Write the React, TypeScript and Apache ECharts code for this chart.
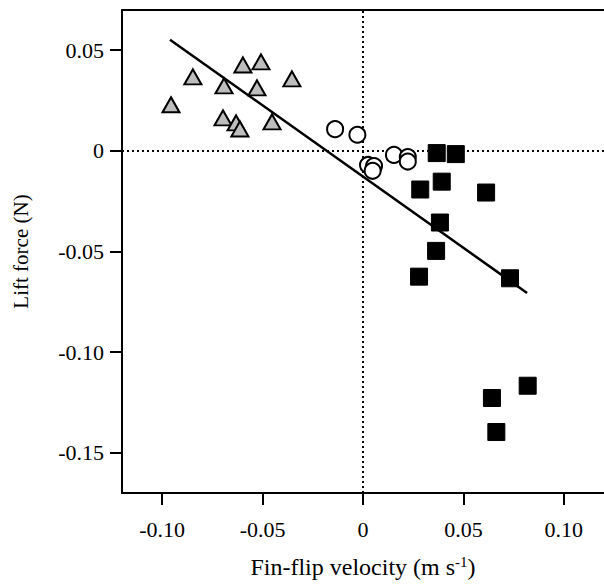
import React, { useEffect, useRef } from "react";
import * as echarts from "echarts";

const triangles: [number, number][] = [
  [-0.0956, 0.0229],
  [-0.0847, 0.0368],
  [-0.0598, 0.0427],
  [-0.0508, 0.0442],
  [-0.0692, 0.0323],
  [-0.0528, 0.0313],
  [-0.0354, 0.0358],
  [-0.0697, 0.0164],
  [-0.0632, 0.0139],
  [-0.0613, 0.0109],
  [-0.0453, 0.0144],
];

const circles: [number, number][] = [
  [-0.0139, 0.0108],
  [-0.0028, 0.008],
  [0.0025, -0.007],
  [0.0055, -0.0075],
  [0.0048, -0.0099],
  [0.0154, -0.002],
  [0.0223, -0.0031],
  [0.0223, -0.0053],
];

const squares: [number, number][] = [
  [0.0367, -0.0011],
  [0.0462, -0.0016],
  [0.0392, -0.0153],
  [0.0285, -0.0192],
  [0.0613, -0.0207],
  [0.0383, -0.0356],
  [0.0364, -0.0497],
  [0.0279, -0.0625],
  [0.0732, -0.0633],
  [0.082, -0.1167],
  [0.0642, -0.1228],
  [0.0664, -0.1397],
];

const fitLine: [number, number][] = [
  [-0.0961, 0.0552],
  [0.0817, -0.0706],
];

const xTicks = [-0.1, -0.05, 0, 0.05, 0.1];
const yTicks = [-0.15, -0.1, -0.05, 0, 0.05];

const FONT = "'Liberation Serif', 'Times New Roman', serif";
const fmt = (v: number) => (Math.abs(v) < 1e-9 ? "0" : v.toFixed(2));

export default function App() {
  const ref = useRef<HTMLDivElement>(null);
  useEffect(() => {
    if (!ref.current) return;
    const chart = echarts.init(ref.current, null, { renderer: "svg" });
    chart.setOption({
      animation: false,
      backgroundColor: "#ffffff",
      grid: { left: 122, right: 0, top: 10, bottom: 90 },
      xAxis: [
        {
          type: "value",
          min: -0.12,
          max: 0.12,
          position: "bottom",
          splitLine: { show: false },
          axisLine: { show: true, onZero: false, lineStyle: { color: "#000", width: 2 } },
          axisTick: { show: true, length: 12, lineStyle: { color: "#000", width: 2 }, customValues: xTicks },
          axisLabel: {
            customValues: xTicks,
            formatter: fmt,
            color: "#000",
            fontFamily: FONT,
            fontSize: 22,
            margin: 25,
          },
          name: "Fin-flip velocity (m s{sup|-1})",
          nameLocation: "middle",
          nameGap: 61,
          nameTextStyle: {
            color: "#000",
            fontFamily: FONT,
            fontSize: 24,
            rich: {
              sup: { fontFamily: FONT, fontSize: 15, color: "#000", padding: [0, 0, 11, 0] },
            },
          },
        },
        {
          type: "value",
          min: -0.12,
          max: 0.12,
          position: "top",
          splitLine: { show: false },
          axisLine: { show: true, onZero: false, lineStyle: { color: "#000", width: 2 } },
          axisTick: { show: false },
          axisLabel: { show: false },
        },
      ],
      yAxis: {
        type: "value",
        min: -0.17,
        max: 0.07,
        splitLine: { show: false },
        axisLine: { show: true, onZero: false, lineStyle: { color: "#000", width: 2 } },
        axisTick: { show: true, length: 12, lineStyle: { color: "#000", width: 2 }, customValues: yTicks },
        axisLabel: {
          customValues: yTicks,
          formatter: fmt,
          color: "#000",
          fontFamily: FONT,
          fontSize: 22,
          margin: 18,
        },
        name: "Lift force (N)",
        nameLocation: "middle",
        nameGap: 91,
        nameTextStyle: { color: "#000", fontFamily: FONT, fontSize: 21 },
      },
      series: [
        {
          type: "scatter",
          name: "triangles",
          data: triangles,
          symbol: "triangle",
          symbolSize: [17, 15],
          itemStyle: { color: "#bdbdbd", borderColor: "#000", borderWidth: 2, opacity: 1 },
          z: 3,
          markLine: {
            silent: true,
            symbol: "none",
            label: { show: false },
            lineStyle: { color: "#000", width: 2, type: [2, 3] },
            data: [{ xAxis: 0 }, { yAxis: 0 }],
            z: 1,
          },
        },
        {
          type: "scatter",
          name: "circles",
          data: circles,
          symbol: "circle",
          symbolSize: 16,
          itemStyle: { color: "#ffffff", borderColor: "#000", borderWidth: 2, opacity: 1 },
          z: 3,
        },
        {
          type: "scatter",
          name: "squares",
          data: squares,
          symbol: "rect",
          symbolSize: 17,
          itemStyle: { color: "#000", borderColor: "#000", borderWidth: 1, opacity: 1 },
          z: 3,
        },
        {
          type: "line",
          name: "fit",
          data: fitLine,
          symbol: "none",
          lineStyle: { color: "#000", width: 2.5 },
          z: 4,
        },
      ],
    });
    return () => chart.dispose();
  }, []);
  return (
    <div
      ref={ref}
      style={{ position: "fixed", left: 0, top: 0, width: 604, height: 584, background: "#fff" }}
    />
  );
}
